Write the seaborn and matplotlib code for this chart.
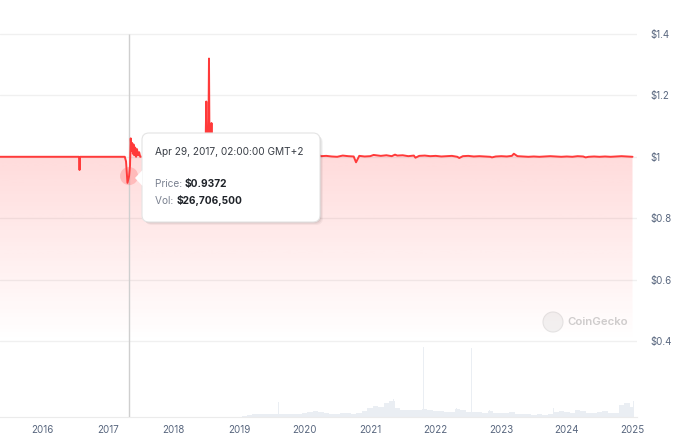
import numpy as np
import pandas as pd
import matplotlib
matplotlib.use('Agg')
import matplotlib.pyplot as plt
import matplotlib.dates as mdates
from matplotlib.patches import FancyBboxPatch, Ellipse, Polygon
from matplotlib.text import Annotation
from matplotlib.transforms import IdentityTransform
from matplotlib.ticker import FuncFormatter
import seaborn as sns

# --- price: early years ---
early_dates = ['2015-05-01', '2016-07-24', '2016-07-27', '2016-07-30', '2017-04-05',
               '2017-04-12', '2017-04-20', '2017-04-29', '2017-05-04', '2017-05-08',
               '2017-05-12', '2017-05-16', '2017-05-20', '2017-05-24', '2017-05-28',
               '2017-06-02', '2017-06-07', '2017-06-12', '2017-06-18', '2017-06-24',
               '2017-06-30']
early_prices = [1.0, 1.0, 0.957, 1.0, 1.0,
                0.985, 0.915, 0.9372, 0.97, 1.06,
                1.02, 1.045, 1.01, 1.04, 1.005,
                1.03, 1.0, 1.025, 1.005, 1.015,
                1.0]

# monthly points mid 2017 - 2018 (mostly hidden behind the tooltip)
mid_dates = ['2017-08-01', '2017-09-01', '2017-10-01', '2017-11-01', '2017-12-01',
             '2018-01-01', '2018-02-01', '2018-03-01', '2018-04-01', '2018-05-01',
             '2018-06-01', '2018-09-01', '2018-10-01', '2018-11-01', '2018-12-01']
mid_prices = [1.002, 1.0, 1.003, 1.001, 1.004, 1.002, 1.0, 1.003, 1.001, 1.002,
              1.0, 1.001, 0.99, 1.003, 1.001]

# the July 2018 spike
spike_dates = ['2018-06-28', '2018-07-03', '2018-07-06', '2018-07-14', '2018-07-18',
               '2018-07-21', '2018-07-28', '2018-08-01', '2018-08-04']
spike_prices = [1.0, 1.18, 1.01, 1.0, 1.32, 1.02, 1.0, 1.11, 1.0]

# monthly points 2019-01 .. 2025-01
late_prices = [1.003, 1.004, 1.002, 1.005, 1.004, 1.003, 1.002, 1.000, 1.001, 1.002, 1.004, 1.001,
               1.003, 1.002, 1.006, 1.002, 1.003, 1.001, 1.000, 1.004, 1.002, 1.001, 1.003, 1.001,
               1.002, 1.005, 1.003, 1.005, 1.002, 1.004, 1.005, 1.002, 1.004, 1.003, 1.004, 1.002,
               1.003, 1.001, 1.002, 1.003, 1.000, 1.002, 1.003, 1.001, 1.002, 1.001, 1.000, 1.001,
               1.002, 1.001, 1.003, 1.002, 1.001, 1.000, 1.001, 1.000, 1.001, 1.002, 1.001, 1.000,
               1.001, 1.000, 1.002, 1.001, 1.000, 1.001, 1.000, 1.001, 1.000, 1.001, 1.002, 1.001,
               1.000]
# short-lived moves after 2019
event_dates = ['2019-05-15', '2020-03-16', '2020-10-14', '2021-01-20', '2021-05-19',
               '2021-09-10', '2022-05-12', '2022-11-10', '2023-03-12', '2024-04-15']
event_prices = [1.007, 1.008, 0.982, 1.006, 1.007,
                0.997, 0.996, 0.998, 1.010, 0.998]

# volume (USD bn), monthly level 2019-01 .. 2025-01
vol_level = [0, 1, 1.5, 2.5, 3, 3, 3, 3, 3, 2.5, 3, 3,
             4, 5, 6, 5, 4, 3, 3, 4, 4, 3, 4, 6,
             9, 11, 10, 14, 16, 9, 7, 7, 7, 7, 8, 7,
             6, 6, 5, 5, 8, 7, 5, 5, 5, 4, 6, 4,
             4, 4, 5, 3, 3, 2.5, 2, 2.5, 2, 3, 5, 6,
             5, 4, 7, 6, 4, 4, 5, 6, 4, 4, 12, 14,
             10]
vol_spike_dates = ['2019-08-08', '2021-05-12', '2021-05-19', '2021-10-25', '2022-04-28',
                   '2022-07-20', '2022-09-20', '2022-10-28', '2023-10-20', '2024-07-25',
                   '2024-12-06', '2025-01-08']
vol_spike_values = [15, 18, 23, 70, 9, 69, 11, 7, 9, 9, 20, 16]

hover_date = pd.Timestamp('2017-04-29')
hover_price = 0.9372
hover_vol = 26706500

y_ticks = [0.4, 0.6, 0.8, 1.0, 1.2, 1.4]

late_dates = pd.date_range('2019-01-01', '2025-01-01', freq='MS')
price_df = pd.DataFrame({
    'date': pd.to_datetime(early_dates + mid_dates + spike_dates + event_dates).append(late_dates),
    'price': early_prices + mid_prices + spike_prices + event_prices + late_prices,
}).sort_values('date')

RED = '#ff3a3a'

sns.set_style('white')
plt.rcParams['font.family'] = ['Inter', 'DejaVu Sans']

W, H = 680, 442
fig = plt.figure(figsize=(W / 100, H / 100), dpi=100)
ax = fig.add_axes([0, 25 / H, 637 / W, 417 / H])
ax2 = ax.twinx()
ax.set_zorder(2)
ax.patch.set_visible(False)

# volume in the background
ax2.fill_between(late_dates, vol_level, step='mid', color='#eaeef3', lw=0)
ax2.bar(pd.to_datetime(vol_spike_dates), vol_spike_values, width=3, color='#eaeef3', lw=0)
ax2.set_ylim(0, 417)
ax2.set_axis_off()

# price line + gradient fill
sns.lineplot(data=price_df, x='date', y='price', color=RED, lw=1.4, ax=ax, zorder=4)
area = ax.fill_between(price_df['date'], price_df['price'], 0.4, color='none', lw=0)
xmin, xmax = pd.Timestamp('2015-05-11'), pd.Timestamp('2025-01-26')
grad = np.zeros((256, 1, 4))
grad[..., :3] = matplotlib.colors.to_rgb(RED)
grad[:, 0, 3] = np.linspace(0, 0.28, 256)
img = ax.imshow(grad, extent=[mdates.date2num(xmin), mdates.date2num(xmax), 0.4, 1.32],
                origin='lower', aspect='auto', zorder=2)
img.set_clip_path(area.get_paths()[0], ax.transData)

# crosshair + hover marker
ax.vlines(hover_date, 0.1524, 1.4, color='#cfcfcf', lw=1, zorder=3)
sns.scatterplot(x=[hover_date], y=[hover_price], s=170, color=RED, alpha=0.22,
                edgecolor='none', ax=ax, legend=False, zorder=5)

ax.set_xlim(xmin, xmax)
ax.set_ylim(0.1524, 1.5107)
ax.set_yticks(y_ticks)
ax.yaxis.tick_right()
ax.yaxis.set_major_formatter(FuncFormatter(lambda v, _: f'\\${v:g}'))
ax.xaxis.set_major_locator(mdates.YearLocator())
ax.xaxis.set_major_formatter(mdates.DateFormatter('%Y'))
ax.tick_params(axis='y', length=0, pad=9.5, labelsize=7, labelcolor='#58667e')
ax.tick_params(axis='x', length=0, pad=6, labelsize=7, labelcolor='#58667e')
ax.grid(axis='y', color='#f0f0f0', lw=1)
ax.grid(axis='x', visible=False)
ax.set_xlabel('')
ax.set_ylabel('')
for side in ['top', 'left', 'right']:
    ax.spines[side].set_visible(False)
ax.spines['bottom'].set_color('#ebebeb')

# watermark
T = IdentityTransform()
fig.add_artist(Ellipse((553, H - 322), 20, 20, transform=T, fc='#f2f2f2', ec='#e4e4e4', lw=0.8, zorder=1))
fig.text(567, H - 322, 'CoinGecko', transform=T, color='#cfcfcf', fontsize=8.2,
         weight='semibold', va='center', zorder=1)

# tooltip
for off, a in [(3, 0.04), (2, 0.05), (1, 0.06)]:
    fig.add_artist(FancyBboxPatch((142 + off, H - 222 - off), 178, 89,
                                  boxstyle='round,pad=0,rounding_size=7', transform=T,
                                  fc='black', alpha=a, lw=0, zorder=19))
fig.add_artist(FancyBboxPatch((142, H - 222), 178, 89, boxstyle='round,pad=0,rounding_size=7',
                              transform=T, fc='white', ec='#e4e4e4', lw=0.8, zorder=20))
fig.add_artist(Polygon([(142.5, H - 170), (135, H - 178), (142.5, H - 186)], closed=True,
                       transform=T, fc='white', ec='none', zorder=21))
fig.text(155, H - 152, hover_date.strftime('%b %d, %Y, 02:00:00 GMT+2'), transform=T,
         fontsize=7.3, color='#3a3f47', va='center', zorder=22)
lab_p = fig.text(155, H - 184, 'Price: ', transform=T, fontsize=7.3, color='#7a8190',
                 va='center', zorder=22)
lab_v = fig.text(155, H - 201, 'Vol: ', transform=T, fontsize=7.3, color='#7a8190',
                 va='center', zorder=22)
for lab, val in [(lab_p, f'\\${hover_price}'), (lab_v, f'\\${hover_vol:,}')]:
    fig.add_artist(Annotation(val, xy=(1, 0), xycoords=lab, va='bottom', ha='left',
                              fontsize=7.3, weight='bold', color='#1f2329', zorder=22))

fig.savefig('out.png', dpi=100)
